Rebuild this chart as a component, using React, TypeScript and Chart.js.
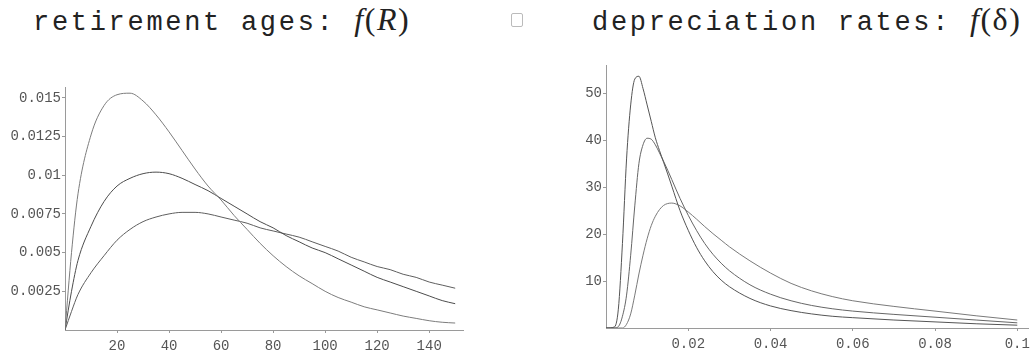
import React, { useEffect, useRef } from "react";
import { Chart, registerables } from "chart.js";

Chart.register(...registerables);

// ---------- Left chart: retirement ages f(R) ----------
const retireAges = [0, 2.5, 5, 10, 15, 20, 25, 30, 35, 40, 45, 50, 55, 60, 65, 70, 75, 80, 85, 90, 95, 100, 105, 110, 115, 120, 125, 130, 135, 140, 145, 150];
const retireA = [0, 0.005, 0.0088, 0.0126, 0.0145, 0.0152, 0.0153, 0.0148, 0.0139, 0.0128, 0.0116, 0.0104, 0.0093, 0.0084, 0.0074, 0.0065, 0.0056, 0.0048, 0.0041, 0.0035, 0.003, 0.0025, 0.0021, 0.0018, 0.0015, 0.0013, 0.0011, 0.0009, 0.00075, 0.0006, 0.0005, 0.00045];
const retireB = [0, 0.0025, 0.0045, 0.0067, 0.0083, 0.0093, 0.0098, 0.0101, 0.0102, 0.0101, 0.0098, 0.0094, 0.009, 0.0085, 0.008, 0.0075, 0.007, 0.0066, 0.0061, 0.0057, 0.0053, 0.005, 0.0046, 0.0042, 0.0038, 0.0034, 0.0031, 0.0028, 0.0025, 0.0022, 0.0019, 0.0017];
const retireC = [0, 0.0012, 0.0023, 0.0037, 0.0048, 0.0058, 0.0065, 0.007, 0.0073, 0.0075, 0.0076, 0.0076, 0.0075, 0.0073, 0.0071, 0.0069, 0.0066, 0.0064, 0.0062, 0.006, 0.0057, 0.0054, 0.0051, 0.0047, 0.0044, 0.0041, 0.0039, 0.0036, 0.0034, 0.0031, 0.0029, 0.0027];
const retireXTicks = [20, 40, 60, 80, 100, 120, 140];
const retireXLabels = ["20", "40", "60", "80", "100", "120", "140"];
const retireYTicks = [0.0025, 0.005, 0.0075, 0.01, 0.0125, 0.015];
const retireYLabels = ["0.0025", "0.005", "0.0075", "0.01", "0.0125", "0.015"];

// ---------- Right chart: depreciation rates f(delta) ----------
const deprRates = [0, 0.002, 0.003, 0.004, 0.005, 0.006, 0.007, 0.008, 0.009, 0.01, 0.011, 0.012, 0.013, 0.014, 0.015, 0.016, 0.018, 0.02, 0.022, 0.024, 0.026, 0.028, 0.03, 0.035, 0.04, 0.045, 0.05, 0.055, 0.06, 0.07, 0.08, 0.09, 0.1];
const deprD = [0, 0.2, 4, 18, 36, 47.5, 53, 53.6, 51, 47.5, 44, 40.5, 37.8, 35.3, 32.8, 30.2, 25, 20.8, 17.2, 14.3, 12, 10.2, 8.8, 6.3, 4.7, 3.7, 3.0, 2.5, 2.2, 1.7, 1.3, 0.9, 0.6];
const deprE = [0, 0, 0.3, 2.5, 7, 15.5, 26, 35, 39, 40.4, 40.2, 39, 37.3, 35.5, 33.6, 31.6, 27.6, 24, 20.8, 18, 15.7, 13.8, 12.2, 9.2, 7.2, 5.8, 4.8, 4.1, 3.6, 2.9, 2.3, 1.7, 1.1];
const deprF = [0, 0, 0, 0, 0.8, 3, 7, 11.5, 15.5, 19, 21.8, 23.8, 25.2, 26.1, 26.5, 26.6, 26, 24.7, 23.2, 21.6, 20.1, 18.7, 17.3, 14.3, 11.7, 9.5, 7.9, 6.7, 5.8, 4.6, 3.6, 2.6, 1.7];
const deprXTicks = [0.02, 0.04, 0.06, 0.08, 0.1];
const deprXLabels = ["0.02", "0.04", "0.06", "0.08", "0.1"];
const deprYTicks = [10, 20, 30, 40, 50];
const deprYLabels = ["10", "20", "30", "40", "50"];

const TICK_FONT = { family: "'Liberation Mono', monospace", size: 14 };
const AXIS_COLOR = "#9a9a9a";
const LABEL_COLOR = "#555";

function series(xs: number[], ys: number[], color: string) {
  return {
    data: xs.map((x, i) => ({ x, y: ys[i] })),
    borderColor: color,
    borderWidth: 1,
    pointRadius: 0,
    fill: false,
    cubicInterpolationMode: "monotone" as const,
  };
}

function makeOptions(cfg: {
  xMax: number;
  yMax: number;
  xTicks: number[];
  xLabels: string[];
  yTicks: number[];
  yLabels: string[];
  yWidth: number;
  xHeight: number;
  padTop: number;
  padRight: number;
}) {
  return {
    animation: false as const,
    responsive: false,
    layout: { padding: { top: cfg.padTop, right: cfg.padRight, left: 0, bottom: 0 } },
    plugins: { legend: { display: false }, tooltip: { enabled: false }, title: { display: false } },
    scales: {
      x: {
        type: "linear" as const,
        min: 0,
        max: cfg.xMax,
        afterBuildTicks: (axis: any) => {
          axis.ticks = cfg.xTicks.map((v) => ({ value: v }));
        },
        afterFit: (axis: any) => {
          axis.height = cfg.xHeight;
        },
        ticks: {
          callback: (_v: any, i: number) => cfg.xLabels[i],
          font: TICK_FONT,
          color: LABEL_COLOR,
          padding: 5,
          maxRotation: 0,
          autoSkip: false,
        },
        grid: { display: true, drawOnChartArea: false, drawTicks: true, tickLength: 3, color: AXIS_COLOR },
        border: { display: true, color: AXIS_COLOR, dash: [1, 2], width: 1 },
      },
      y: {
        type: "linear" as const,
        min: 0,
        max: cfg.yMax,
        afterBuildTicks: (axis: any) => {
          axis.ticks = cfg.yTicks.map((v) => ({ value: v }));
        },
        afterFit: (axis: any) => {
          axis.width = cfg.yWidth;
        },
        ticks: {
          callback: (_v: any, i: number) => cfg.yLabels[i],
          font: TICK_FONT,
          color: LABEL_COLOR,
          padding: 1,
          autoSkip: false,
        },
        grid: { display: true, drawOnChartArea: false, drawTicks: true, tickLength: 3, color: AXIS_COLOR },
        border: { display: true, color: AXIS_COLOR, dash: [1, 2], width: 1 },
      },
    },
  };
}

const monoStyle: React.CSSProperties = {
  fontFamily: "'Liberation Mono', monospace",
  fontSize: 27,
  letterSpacing: "2.7px",
};
const serifStyle: React.CSSProperties = {
  fontFamily: "'Liberation Serif', serif",
  fontSize: 32,
  letterSpacing: "1.5px",
};

export default function App() {
  const leftRef = useRef<HTMLCanvasElement>(null);
  const rightRef = useRef<HTMLCanvasElement>(null);

  useEffect(() => {
    const c1 = new Chart(leftRef.current!, {
      type: "line",
      data: {
        datasets: [
          series(retireAges, retireA, "#7c7c7c"),
          series(retireAges, retireB, "#4c4c4c"),
          series(retireAges, retireC, "#5e5e5e"),
        ],
      },
      options: makeOptions({
        xMax: 153,
        yMax: 0.0157,
        xTicks: retireXTicks,
        xLabels: retireXLabels,
        yTicks: retireYTicks,
        yLabels: retireYLabels,
        yWidth: 65,
        xHeight: 28,
        padTop: 87,
        padRight: 17,
      }) as any,
    });
    const c2 = new Chart(rightRef.current!, {
      type: "line",
      data: {
        datasets: [
          series(deprRates, deprD, "#555555"),
          series(deprRates, deprE, "#666666"),
          series(deprRates, deprF, "#7a7a7a"),
        ],
      },
      options: makeOptions({
        xMax: 0.1027,
        yMax: 56,
        xTicks: deprXTicks,
        xLabels: deprXLabels,
        yTicks: deprYTicks,
        yLabels: deprYLabels,
        yWidth: 86,
        xHeight: 30,
        padTop: 65,
        padRight: 5,
      }) as any,
    });
    return () => {
      c1.destroy();
      c2.destroy();
    };
  }, []);

  return (
    <div style={{ position: "absolute", left: 0, top: 0, width: 1035, height: 358, background: "#fff", overflow: "hidden" }}>
      <div style={{ position: "absolute", left: 33, top: 4, lineHeight: "30px", color: "#222", whiteSpace: "pre" }}>
        <span style={monoStyle}>retirement ages: </span>
        <span style={serifStyle}>
          <i>f</i>(<i>R</i>)
        </span>
      </div>
      <div
        style={{
          position: "absolute",
          left: 511,
          top: 13,
          width: 12,
          height: 14,
          border: "1px solid #bbb",
          borderRadius: 2,
          boxSizing: "border-box",
        }}
      />
      <div style={{ position: "absolute", left: 592, top: 4, lineHeight: "30px", color: "#222", whiteSpace: "pre" }}>
        <span style={monoStyle}>depreciation rates: </span>
        <span style={serifStyle}>
          <i>f</i>(δ)
        </span>
      </div>
      <canvas ref={leftRef} width={480} height={358} style={{ position: "absolute", left: 0, top: 0 }} />
      <canvas ref={rightRef} width={515} height={358} style={{ position: "absolute", left: 520, top: 0 }} />
    </div>
  );
}
